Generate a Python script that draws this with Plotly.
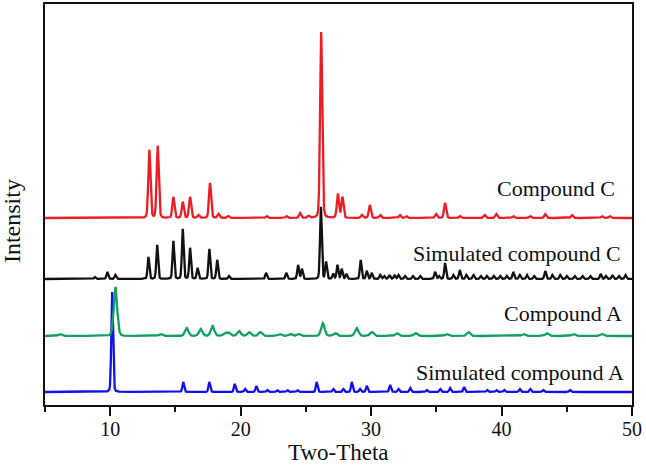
import numpy as np
import plotly.graph_objects as go

# ---- data (two-theta positions, peak intensities) ----
x_range = [5, 50]
x_ticks = [10, 20, 30, 40, 50]

red_name = "Compound C"
red_pos = [13.0, 13.64, 14.84, 15.56, 16.12, 16.76, 17.65, 18.3, 19.05, 22.0,
           23.5, 24.55, 25.2, 26.17, 27.45, 27.8, 29.3, 29.9, 30.7, 32.2,
           32.7, 34.98, 35.67, 36.8, 38.7, 39.6, 40.9, 42.2, 43.35, 45.4,
           47.7, 48.3]
red_int = [68, 72, 21, 16, 21, 3, 35, 4, 2, 2,
           2, 5, 2, 186, 24, 21, 3, 13, 3, 3,
           2, 4, 15, 2, 3, 4, 2, 2, 4, 3,
           2, 2]

blk_name = "Simulated compound C"
blk_pos = [8.83, 9.78, 10.4, 12.93, 13.6, 14.84, 15.56, 16.12, 16.7, 17.6,
           18.2, 19.1, 21.95, 23.5, 24.4, 24.7, 26.15, 26.55, 27.1, 27.42,
           27.75, 28.1, 29.2, 29.67, 30.05, 30.7, 31.4, 32.1, 32.6, 33.76,
           34.9, 35.67, 36.8, 37.85, 38.87, 39.9, 40.9, 41.95, 43.35, 44.5,
           47.6, 48.5, 31.0, 31.8, 33.2, 35.2, 36.3, 37.3, 38.4, 39.4,
           40.4, 41.4, 42.5, 43.9, 45.0, 45.6, 46.2, 46.8, 48.0, 49.0, 49.5]
blk_int = [2, 7, 4, 22, 34, 38, 50, 31, 11, 30,
           19, 3, 6, 6, 14, 10, 72, 17, 5, 14,
           10, 5, 19, 8, 6, 4, 4, 4, 3, 3,
           7, 16, 9, 4, 3, 3, 7, 4, 8, 4,
           5, 4, 3, 4, 3, 3, 4, 4, 3, 3,
           3, 4, 3, 4, 3, 3, 3, 3, 3, 3, 4]

grn_name = "Compound A"
grn_pos = [6.15, 10.4, 13.87, 15.86, 16.94, 17.85, 18.8, 19.1, 19.88, 20.64,
           21.5, 23.0, 23.8, 24.45, 26.3, 27.24, 28.9, 30.05, 31.97, 33.4,
           35.8, 37.45, 41.67, 43.47, 45.5, 47.7]
grn_int = [2, 49, 2, 8, 7, 10, 3, 3, 5, 4,
           4, 2, 2, 2, 13, 3, 8, 4, 3, 3,
           2, 4, 2, 3, 2, 2]

blu_name = "Simulated compound A"
blu_pos = [10.15, 15.6, 17.6, 19.55, 20.34, 21.2, 22.05, 22.8, 23.58, 24.35,
           25.83, 27.1, 27.87, 28.52, 29.15, 29.67, 31.46, 32.1, 33.0, 34.27,
           35.3, 36.06, 37.13, 38.9, 39.6, 40.2, 41.4, 42.2, 43.2, 45.25]
blu_int = [100, 10, 10, 8, 3, 6, 2, 2, 2, 2,
           10, 3, 3, 10, 3, 6, 7, 3, 4, 2,
           3, 4, 5, 2, 2, 2, 3, 3, 2, 2]

x_title = "Two-Theta"
y_title = "Intensity"

# ---- styling / layout constants ----
offsets = {"blu": 13, "grn": 69, "blk": 126, "red": 187}
widths = {"blu": 0.07, "grn": 0.14, "blk": 0.07, "red": 0.085}
colors = {"blu": "#1010f0", "grn": "#14a060", "blk": "#111111", "red": "#ee1c25"}
FONT = "Liberation Serif, Times New Roman, serif"

grid = np.round(np.arange(x_range[0], x_range[1] + 0.005, 0.01), 3)


def profile(pos, inten, w, lfrac=0.3):
    y = np.zeros_like(grid)
    for p, h in zip(pos, inten):
        d = (grid - p) / w
        y += h * ((1 - lfrac) * np.exp(-0.5 * d * d) + lfrac / (1 + (d * 1.2) ** 2))
    return y


series = [
    ("blu", blu_name, blu_pos, blu_int),
    ("grn", grn_name, grn_pos, grn_int),
    ("blk", blk_name, blk_pos, blk_int),
    ("red", red_name, red_pos, red_int),
]

fig = go.Figure()
for key, name, pos, inten in series:
    fig.add_trace(go.Scatter(
        x=grid, y=profile(pos, inten, widths[key]) + offsets[key],
        mode="lines", name=name,
        line=dict(color=colors[key], width=2.3),
        showlegend=False, hoverinfo="skip"))

label_y = {"red": 217, "blk": 152, "grn": 92, "blu": 33}
label_x = {"red": 0.9744, "blk": 0.9847, "grn": 0.9864, "blu": 0.9898}
for key, name, pos, inten in series:
    fig.add_annotation(x=label_x[key], xref="paper", y=label_y[key], yref="y",
                       text=name, showarrow=False, xanchor="right",
                       yanchor="middle",
                       font=dict(family=FONT, size=22, color="#111111"))

# axis titles placed as annotations (paper coords) for exact positioning
fig.add_annotation(x=0.5, xref="paper", y=-0.1546, yref="paper", text=x_title,
                   showarrow=False, xanchor="center", yanchor="bottom",
                   font=dict(family=FONT, size=23, color="#111111"))
fig.add_annotation(x=-0.056, xref="paper", y=0.459, yref="paper", text=y_title,
                   showarrow=False, xanchor="center", yanchor="middle",
                   textangle=-90,
                   font=dict(family=FONT, size=24, color="#111111"))

fig.update_layout(
    width=646, height=468,
    margin=dict(l=45, r=14, t=4, b=63),
    paper_bgcolor="white", plot_bgcolor="white",
    font=dict(family=FONT, size=22, color="#111111"),
)
fig.update_xaxes(
    range=x_range, tickvals=x_ticks, ticks="outside", ticklen=9, tickwidth=2,
    tickcolor="#111111", ticklabelstandoff=-4,
    minor=dict(dtick=5, tick0=0, ticks="outside", ticklen=5, tickwidth=2,
               tickcolor="#111111"),
    showline=True, linecolor="#111111", linewidth=2, mirror=True,
    showgrid=False, zeroline=False, automargin=False,
    tickfont=dict(family=FONT, size=20),
)
fig.update_yaxes(
    range=[0, 401], showticklabels=False, ticks="",
    showline=True, linecolor="#111111", linewidth=2, mirror=True,
    showgrid=False, zeroline=False, automargin=False,
)

fig.write_html("out.html",
               config={"displayModeBar": False},
               post_script="document.body.style.margin='0';"
                           "document.body.style.overflow='hidden';")
